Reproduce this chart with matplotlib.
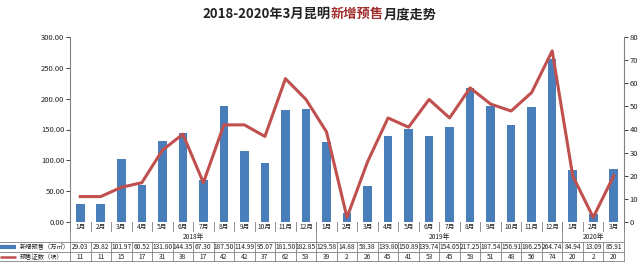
import matplotlib
matplotlib.use('Agg')
import matplotlib.pyplot as plt
from matplotlib.lines import Line2D
from matplotlib.ticker import FormatStrFormatter
import numpy as np

plt.rcParams['font.family'] = ['Noto Sans CJK SC', 'DejaVu Sans']

months = ['1月', '2月', '3月', '4月', '5月', '6月', '7月', '8月', '9月', '10月', '11月', '12月',
          '1月', '2月', '3月', '4月', '5月', '6月', '7月', '8月', '9月', '10月', '11月', '12月',
          '1月', '2月', '3月']
years = ['2018年', '2019年', '2020年']
year_spans = [(0, 12), (12, 24), (24, 27)]
area = [29.03, 29.82, 101.97, 60.52, 131.80, 144.35, 67.30, 187.50, 114.99, 95.07, 181.50, 182.85,
        129.58, 14.88, 58.38, 139.80, 150.89, 139.74, 154.05, 217.25, 187.54, 156.91, 186.25, 264.74,
        84.94, 13.09, 85.91]
count = [11, 11, 15, 17, 31, 38, 17, 42, 42, 37, 62, 53, 39, 2, 26, 45, 41, 53, 45, 58, 51, 48, 56, 74,
         20, 2, 20]

W, H = 639, 272
fig = plt.figure(figsize=(W / 100, H / 100), dpi=100)
x0, x1, ytop, ybot = 70, 624, 37, 222
ax = fig.add_axes([x0 / W, 1 - ybot / H, (x1 - x0) / W, (ybot - ytop) / H])
ax2 = ax.twinx()

blue = '#4a7ebb'
red = '#c0504d'
x = np.arange(len(area))
ax.bar(x, area, width=0.42, color=blue, zorder=2)
ax2.plot(x, count, color=red, lw=2.2, zorder=3)

ax.set_xlim(-0.5, len(area) - 0.5)
ax.set_ylim(0, 300)
ax.set_yticks(np.arange(0, 301, 50))
ax.yaxis.set_major_formatter(FormatStrFormatter('%.2f'))
ax2.set_ylim(0, 80)
ax2.set_yticks(np.arange(0, 81, 10))
ax.set_xticks([])
for a in (ax, ax2):
    for s in ('top', 'bottom'):
        a.spines[s].set_visible(False)
    a.tick_params(axis='y', labelsize=5.5, length=3, width=0.6, pad=1, colors='#222222')
ax.spines['left'].set_color('#808080')
ax2.spines['right'].set_color('#808080')
ax2.spines['left'].set_visible(False)
ax.spines['right'].set_visible(False)

# title in three colored pieces, centred as a whole
parts = [('2018-2020年3月昆明', '#222222'), ('新增预售', '#a0302e'), ('月度走势', '#222222')]
renderer = fig.canvas.get_renderer()
ty = 1 - 14 / H
objs = []
for txt, c in parts:
    objs.append(fig.text(0, ty, txt, ha='left', va='center', fontsize=9.5,
                         fontweight='bold', color=c))
widths = [o.get_window_extent(renderer).width for o in objs]
xs = W / 2 - sum(widths) / 2
for o, w in zip(objs, widths):
    o.set_x(xs / W)
    xs += w

# table under the axis
trans = ax.get_xaxis_transform()
def py(p):
    return (ybot - p) / (ybot - ytop)

lc = '#808080'
r_m, r_y, r1, r2, r3 = 222, 232, 242, 252, 261
kw = dict(transform=trans, clip_on=False, color=lc, lw=0.6)
n = len(area)
for i in range(n + 1):
    xb = i - 0.5
    ax.add_line(Line2D([xb, xb], [py(r_m), py(r_m + 9)], **kw))
for s, e in year_spans:
    ax.add_line(Line2D([s - 0.5, s - 0.5], [py(r_m), py(r1)], **kw))
ax.add_line(Line2D([n - 0.5, n - 0.5], [py(r_m), py(r1)], **kw))
for r in (r1, r2, r3):
    ax.add_line(Line2D([-0.5 - 70 / 20.5, n - 0.5], [py(r), py(r)], **kw))
for i in range(n + 1):
    xb = i - 0.5
    ax.add_line(Line2D([xb, xb], [py(r1), py(r3)], **kw))

tk = dict(transform=trans, ha='center', va='center', fontsize=4.8, color='#222222', clip_on=False)
for i in range(n):
    ax.text(i, py(r_m + 5), months[i], **tk)
    ax.text(i, py(r1 + 5), '%.2f' % area[i], **tk)
    ax.text(i, py(r2 + 5), str(count[i]), **tk)
for (s, e), yname in zip(year_spans, years):
    ax.text((s + e - 1) / 2, py(r_y + 5), yname, **tk)

# row legends
fig.add_artist(Line2D([0, 16 / W], [1 - (r1 + 5) / H] * 2, color=blue, lw=3, solid_capstyle='butt'))
fig.add_artist(Line2D([0, 16 / W], [1 - (r2 + 5) / H] * 2, color=red, lw=1.8, solid_capstyle='butt'))
fig.text(20 / W, 1 - (r1 + 5) / H, '新增预售（万㎡）', ha='left', va='center', fontsize=4.5, color='#222222')
fig.text(20 / W, 1 - (r2 + 5) / H, '预售证数（块）', ha='left', va='center', fontsize=4.5, color='#222222')

fig.savefig('out.png', dpi=100)
